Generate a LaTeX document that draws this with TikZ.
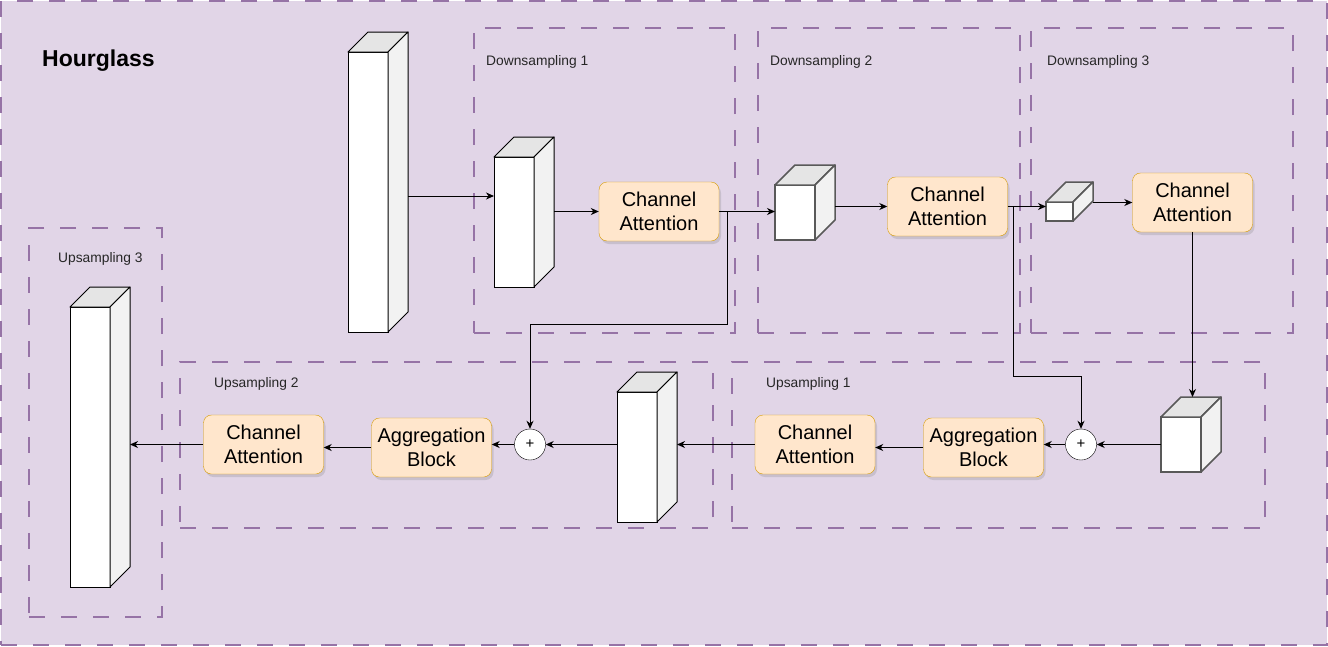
\documentclass[tikz,border=0pt]{standalone}
\usepackage{fontspec}
\setmainfont{Liberation Sans}
\usepackage{xcolor}
\usetikzlibrary{arrows.meta,shadows,calc}

\definecolor{hgfill}{HTML}{E1D5E7}
\definecolor{hgline}{HTML}{9673A6}
\definecolor{attfill}{HTML}{FFE6CC}
\definecolor{attline}{HTML}{D79B00}

\begin{document}
\begin{tikzpicture}[
        x=1pt, y=-1pt,
        >={Stealth[length=8pt, width=7pt, inset=2.5pt]},
        groupbox/.style={rectangle, draw=hgline, line width=1.5pt, dash pattern=on 16pt off 16pt, anchor=north west, inner sep=0pt, outer sep=0pt},
        grouplabel/.style={anchor=west, inner sep=0pt, text=black!85, font=\fontsize{13.8}{16}\selectfont},
        block/.style={rectangle, rounded corners=8pt, draw=attline, fill=attfill, align=center, minimum width=120pt, minimum height=59pt, inner sep=0pt, font=\fontsize{20}{24}\selectfont, drop shadow={opacity=0.25, shadow xshift=2pt, shadow yshift=-3pt}},
        sumnode/.style={circle, draw=black, fill=white, minimum size=31pt, inner sep=0pt, font=\fontsize{15}{15}\selectfont},
        front/.style={rectangle, draw=black, line width=1pt, fill=white, anchor=north west, inner sep=0pt, outer sep=0pt},
        frontgray/.style={front, draw=black!65, line width=1.5pt},
        arrow/.style={->, line width=1pt}
    ]
        \useasboundingbox (0,0) rectangle (1328,646);
        \node[groupbox, fill=hgfill, minimum width=1326, minimum height=644] (hourglass) at (1,1) {};
        \node[anchor=west, inner sep=0pt, font=\bfseries\fontsize{23}{26}\selectfont] (title) at (42,61) {Hourglass};

        % stages
        \node[groupbox, minimum width=261, minimum height=305] (dsgrp1) at (474,28) {};
        \node[groupbox, minimum width=262, minimum height=305] (dsgrp2) at (758,28) {};
        \node[groupbox, minimum width=262, minimum height=305] (dsgrp3) at (1031,28) {};
        \node[groupbox, minimum width=133, minimum height=389] (usgrp3) at (29,228) {};
        \node[groupbox, minimum width=533, minimum height=166] (usgrp2) at (180,362) {};
        \node[groupbox, minimum width=533, minimum height=166] (usgrp1) at (732,362) {};

        \node[grouplabel] (dslbl1) at (486,62) {Downsampling 1};
        \node[grouplabel] (dslbl2) at (770,62) {Downsampling 2};
        \node[grouplabel] (dslbl3) at (1047,62) {Downsampling 3};
        \node[grouplabel] (uslbl3) at (58,259) {Upsampling 3};
        \node[grouplabel] (uslbl2) at (214,384) {Upsampling 2};
        \node[grouplabel] (uslbl1) at (766,384) {Upsampling 1};

        % feature maps (front faces)
        \node[front, minimum width=40, minimum height=280] (feat0) at (348,52) {};
        \node[front, minimum width=40, minimum height=130] (dsfeat1) at (494,157) {};
        \node[frontgray, minimum width=40, minimum height=55] (dsfeat2) at (775,185) {};
        \node[frontgray, minimum width=27, minimum height=19] (dsfeat3) at (1046,202) {};
        \node[frontgray, minimum width=40, minimum height=55] (usfeat1) at (1161,417) {};
        \node[front, minimum width=40, minimum height=130] (usfeat2) at (617,392) {};
        \node[front, minimum width=40, minimum height=280] (usfeat3) at (70,307) {};

        \foreach \c/\col/\lw in {feat0/black/1pt, dsfeat1/black/1pt, dsfeat2/black!65/1.5pt, dsfeat3/black!65/1.5pt, usfeat1/black!65/1.5pt, usfeat2/black/1pt, usfeat3/black/1pt} {
            \draw[draw=\col, line width=\lw, fill=gray!20, line join=round] (\c.north west) -- ++(20,-20) -- ([shift={(20,-20)}]\c.north east) -- (\c.north east) -- cycle;
            \draw[draw=\col, line width=\lw, fill=gray!10, line join=round] (\c.north east) -- ++(20,-20) -- ([shift={(20,-20)}]\c.south east) -- (\c.south east) -- cycle;
            \coordinate (\c-r) at ([shift={(20,0)}]\c.east);
            \coordinate (\c-t) at ([shift={(20,-20)}]\c.north);
        }

        % blocks
        \node[block] (dsatt1) at (659,211.5) {Channel\\Attention};
        \node[block] (dsatt2) at (947.5,206.5) {Channel\\Attention};
        \node[block] (dsatt3) at (1192.5,202.5) {Channel\\Attention};
        \node[block] (usagg1) at (983.5,447.5) {Aggregation\\Block};
        \node[block] (usatt1) at (815,444.5) {Channel\\Attention};
        \node[block] (usagg2) at (431.5,447.5) {Aggregation\\Block};
        \node[block] (usatt2) at (263.5,444.5) {Channel\\Attention};
        \node[sumnode] (sum1) at (1081,444.5) {+};
        \node[sumnode] (sum2) at (530,444.5) {+};

        % down path
        \draw[arrow] ([shift={(0,4)}]feat0-r) -- ([shift={(0,4)}]feat0-r -| dsfeat1.west);
        \draw[arrow] (dsfeat1-r |- dsatt1.west) -- (dsatt1.west);
        \draw[arrow] (dsatt1.east) -- (dsatt1.east -| dsfeat2.west);
        \draw[arrow] (dsfeat2-r |- dsatt2.west) -- (dsatt2.west);
        \draw[arrow] (dsatt2.east) -- (dsatt2.east -| dsfeat3.west);
        \draw[arrow] (dsatt3.west -| dsfeat3-r) -- (dsatt3.west);
        \draw[arrow] (dsatt3.south) -- (dsatt3.south |- usfeat1-t);

        % skips
        \draw[arrow] ([shift={(8,0)}]dsatt1.east) -- ++(0,113) -| (sum2.north);
        \draw[arrow] ([shift={(6,0)}]dsatt2.east) -- ++(0,170) -| (sum1.north);

        % up path
        \draw[arrow] (usfeat1.west |- sum1.east) -- (sum1.east);
        \draw[arrow] (sum1.west) -- (sum1.west -| usagg1.east);
        \draw[arrow] (usagg1.west) -- (usagg1.west -| usatt1.east);
        \draw[arrow] (usatt1.west) -- (usatt1.west -| usfeat2-r);
        \draw[arrow] (usfeat2.west |- sum2.east) -- (sum2.east);
        \draw[arrow] (sum2.west) -- (sum2.west -| usagg2.east);
        \draw[arrow] (usagg2.west) -- (usagg2.west -| usatt2.east);
        \draw[arrow] (usatt2.west) -- (usatt2.west -| usfeat3-r);
    \end{tikzpicture}
\end{document}
